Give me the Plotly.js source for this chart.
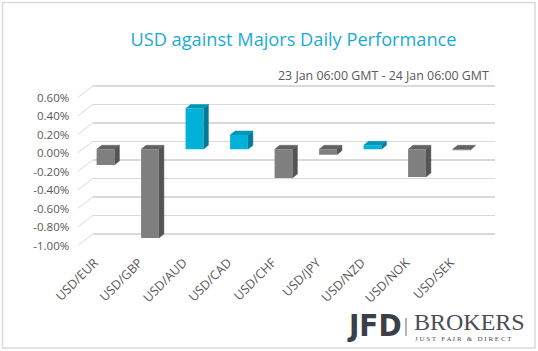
<!DOCTYPE html>
<html><head><meta charset="utf-8">
<script src="https://cdn.plot.ly/plotly-3.0.1.min.js"></script>
<style>html,body{margin:0;padding:0;background:#fff}#chart{width:538px;height:351px}</style>
</head><body><div id="chart"></div>
<script>
const categories = ['USD/EUR','USD/GBP','USD/AUD','USD/CAD','USD/CHF','USD/JPY','USD/NZD','USD/NOK','USD/SEK'];
const values = [-0.17, -0.96, 0.44, 0.155, -0.31, -0.058, 0.043, -0.30, -0.01];
const tickVals = [0.6, 0.4, 0.2, 0.0, -0.2, -0.4, -0.6, -0.8, -1.0];
const tickText = ['0.60%','0.40%','0.20%','0.00%','-0.20%','-0.40%','-0.60%','-0.80%','-1.00%'];
const titleText = 'USD against Majors Daily Performance';
const subtitleText = '23 Jan 06:00 GMT - 24 Jan 06:00 GMT';

// geometry (pixels)
const W = 538, H = 351, PX = 92.5;
const gridZero = 141.3, barZero = 149.3, frontOff = 11.5;
const barW = 0.4, dxPx = 5, dyPx = 4;
const slot = (483.75 - 83.25) / categories.length;
const dx = dxPx / slot, dy = dyPx / PX;

const pos = categories.map((c, i) => i);
const upC = {front:'#00b2d9', top:'#0096b8', side:'#007c97'};
const dnC = {front:'#7f7f7f', top:'#626262', side:'#545454'};

function faces(sign, which) {
  const xs = [], ys = [];
  values.forEach((v, i) => {
    if ((v >= 0) !== (sign > 0)) return;
    const x = pos[i], lo = Math.min(v, 0), hi = Math.max(v, 0);
    if (which === 'side') {
      xs.push(x + barW/2, x + barW/2 + dx, x + barW/2 + dx, x + barW/2, null);
      ys.push(lo, lo + dy, hi + dy, hi, null);
    } else {
      xs.push(x - barW/2, x - barW/2 + dx, x + barW/2 + dx, x + barW/2, null);
      ys.push(hi, hi + dy, hi + dy, hi, null);
    }
  });
  const col = sign > 0 ? upC[which] : dnC[which];
  return {type:'scatter', x:xs, y:ys, xaxis:'x2', yaxis:'y2', mode:'lines', fill:'toself',
          fillcolor:col, line:{width:0.5, color:col}, hoverinfo:'skip', showlegend:false};
}

const traces = [
  {type:'scatter', x:[0], y:[0], xaxis:'x', yaxis:'y', mode:'markers', marker:{opacity:0}, hoverinfo:'skip', showlegend:false},
  {type:'bar', x:pos, y:values, xaxis:'x2', yaxis:'y2', width:barW,
   marker:{color:values.map(v => v >= 0 ? upC.front : dnC.front), line:{width:0}},
   showlegend:false, hoverinfo:'skip'},
  faces(1,'side'), faces(1,'top'), faces(-1,'side'), faces(-1,'top')
];

const shapes = [
  {type:'rect', xref:'paper', yref:'paper', x0:2.5/W, x1:535/W, y0:1-348/H, y1:1-2.5/H,
   line:{color:'#d9d9d9', width:1.5}, layer:'below'},
  {type:'line', xref:'paper', yref:'paper', x0:406/W, x1:406/W, y0:1-336/H, y1:1-318/H,
   line:{color:'#9a9a9a', width:1.5}}
];
tickVals.forEach(v => {
  shapes.push({type:'line', xref:'paper', yref:'y', x0:78/W, x1:93/W, y0:v - frontOff/PX, y1:v,
               line:{color:'#d9d9d9', width:1}, layer:'below'});
});

const layout = {
  width:W, height:H, margin:{l:0, r:0, t:0, b:0},
  paper_bgcolor:'#ffffff', plot_bgcolor:'rgba(0,0,0,0)',
  font:{family:'Open Sans, sans-serif', color:'#595959'},
  title:{text:titleText, font:{family:'Open Sans, sans-serif', size:18.2, color:'#1aabd5'},
         xref:'paper', yref:'paper', x:293.5/W, xanchor:'center', y:1-40/H, yanchor:'middle'},
  xaxis:{domain:[93/W, 495/W], range:[0,1], showticklabels:false, showgrid:false, zeroline:false, ticks:'', fixedrange:true},
  yaxis:{domain:[0,1], range:[(gridZero - H)/PX, gridZero/PX], tickvals:tickVals, showticklabels:false,
         showgrid:true, gridcolor:'#d9d9d9', gridwidth:1.5, zeroline:false, ticks:'', fixedrange:true},
  xaxis2:{domain:[83.25/W, 483.75/W], range:[-0.5, categories.length - 0.5], anchor:'free', position:1-252/H,
          tickvals:pos, ticktext:categories, tickangle:-45, showgrid:false, zeroline:false, ticks:'',
          ticklabelshift:-11, tickfont:{size:12.5, color:'#595959'}, fixedrange:true},
  yaxis2:{domain:[0,1], range:[(barZero - H)/PX, barZero/PX], anchor:'x2', tickvals:tickVals, ticktext:tickText,
          showgrid:false, zeroline:false, ticks:'', ticklabelstandoff:13, ticklabelshift:4,
          tickfont:{size:11.5, color:'#595959'}, fixedrange:true},
  shapes:shapes,
  annotations:[
    {text:subtitleText, xref:'paper', yref:'paper', x:491/W, xanchor:'right', y:1-75/H, yanchor:'middle',
     showarrow:false, font:{size:12.4, color:'#595959'}},
    {text:'<b>JFD</b>', xref:'paper', yref:'paper', x:374/W, xanchor:'center', y:1-325/H, yanchor:'middle',
     showarrow:false, font:{family:'Liberation Sans Narrow, DejaVu Sans Condensed, sans-serif', size:31, color:'#3b4046'}},
    {text:'BROKERS', xref:'paper', yref:'paper', x:412/W, xanchor:'left', y:1-322/H, yanchor:'middle',
     showarrow:false, font:{family:'Liberation Serif, serif', size:24, color:'#4a4f55'}},
    {text:'J U S T &#160; F A I R &#160; &amp; &#160; D I R E C T', xref:'paper', yref:'paper', x:413/W, xanchor:'left', y:1-338.5/H, yanchor:'middle',
     showarrow:false, font:{family:'Liberation Serif, serif', size:7, color:'#4a4f55'}}
  ]
};

Plotly.newPlot('chart', traces, layout, {displayModeBar:false, staticPlot:true});
</script>
</body></html>
